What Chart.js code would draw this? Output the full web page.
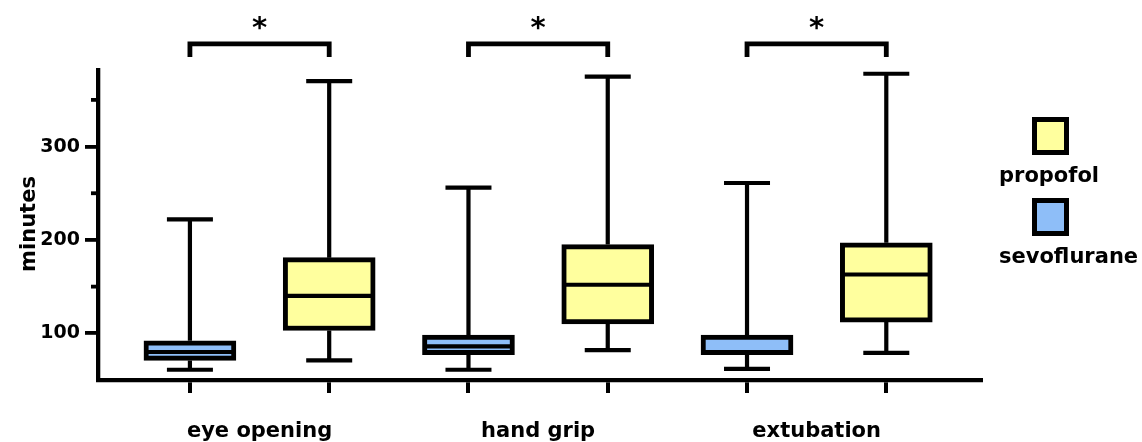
<!DOCTYPE html>
<html>
<head>
<meta charset="utf-8">
<script src="https://cdn.jsdelivr.net/npm/chart.js@4.4.1/dist/chart.umd.min.js"></script>
<style>
  html, body { margin: 0; padding: 0; background: #fff; }
  #wrap { width: 1142px; height: 442px; position: relative; }
</style>
</head>
<body>
<div id="wrap"><canvas id="chBox"></canvas></div>
<script>
/* ── Dati: tempi di risveglio (minuti) per gruppo ── */
const GROUPS = ['eye opening', 'hand grip', 'extubation'];
const SERIES = ['propofol', 'sevoflurane'];

const sevoMin = [61, 61, 62];
const sevoQ1  = [71, 77, 77];
const sevoMed = [80, 86, 80];
const sevoQ3  = [92, 98, 98];
const sevoMax = [222, 256, 261];

const propMin = [71, 82, 79];
const propQ1  = [103, 110, 112];
const propMed = [140, 152, 163];
const propQ3  = [181, 195, 197];
const propMax = [370, 375, 378];

const Y_TICKS = [100, 200, 300];
const Y_MINOR = [150, 250, 350];
const SIG_MARK = ['*', '*', '*'];
const SIG_TOP = 410, SIG_LEG = 396, SIG_STAR = 434;

const COL_SEVO = '#8ebef8';
const COL_PROP = '#ffff9e';
const FONT = "'DejaVu Sans', 'Liberation Sans', Arial, sans-serif";

// posizione sull'asse x: sevo a 0,2,4 · propofol a 1,3,5
const boxes = [];
GROUPS.forEach((g, i) => {
  boxes.push({ x: i * 2,     min: sevoMin[i], q1: sevoQ1[i], med: sevoMed[i], q3: sevoQ3[i], max: sevoMax[i] });
  boxes.push({ x: i * 2 + 1, min: propMin[i], q1: propQ1[i], med: propMed[i], q3: propQ3[i], max: propMax[i] });
});

/* Baffi, mediane, parentesi di significatività, etichette e legenda */
const boxExtras = {
  id: 'boxExtras',
  afterDatasetsDraw(chart) {
    const ctx = chart.ctx, xs = chart.scales.x, ys = chart.scales.y;
    const capW = 46, boxW = 92;
    ctx.save();
    ctx.strokeStyle = '#000';
    ctx.lineWidth = 4.2;
    ctx.lineCap = 'butt';
    boxes.forEach(b => {
      const cx = xs.getPixelForValue(b.x);
      ctx.beginPath();
      // baffo superiore e inferiore
      ctx.moveTo(cx, ys.getPixelForValue(b.q3)); ctx.lineTo(cx, ys.getPixelForValue(b.max));
      ctx.moveTo(cx, ys.getPixelForValue(b.q1)); ctx.lineTo(cx, ys.getPixelForValue(b.min));
      ctx.moveTo(cx - capW / 2, ys.getPixelForValue(b.max)); ctx.lineTo(cx + capW / 2, ys.getPixelForValue(b.max));
      ctx.moveTo(cx - capW / 2, ys.getPixelForValue(b.min)); ctx.lineTo(cx + capW / 2, ys.getPixelForValue(b.min));
      // mediana
      ctx.moveTo(cx - boxW / 2 + 2, ys.getPixelForValue(b.med)); ctx.lineTo(cx + boxW / 2 - 2, ys.getPixelForValue(b.med));
      ctx.stroke();
    });

    // tacche minori asse y
    ctx.lineWidth = 3.8;
    Y_MINOR.forEach(v => {
      const y = ys.getPixelForValue(v);
      ctx.beginPath(); ctx.moveTo(ys.right - 7, y); ctx.lineTo(ys.right, y); ctx.stroke();
    });

    // parentesi + asterisco
    ctx.lineWidth = 4.8;
    ctx.lineJoin = 'miter';
    ctx.fillStyle = '#000';
    GROUPS.forEach((g, i) => {
      const x1 = xs.getPixelForValue(i * 2), x2 = xs.getPixelForValue(i * 2 + 1);
      const yt = ys.getPixelForValue(SIG_TOP), yl = ys.getPixelForValue(SIG_LEG);
      ctx.beginPath();
      ctx.moveTo(x1, yl); ctx.lineTo(x1, yt); ctx.lineTo(x2, yt); ctx.lineTo(x2, yl);
      ctx.stroke();
      ctx.font = 'bold 29px ' + FONT;
      ctx.textAlign = 'center';
      ctx.textBaseline = 'alphabetic';
      ctx.fillText(SIG_MARK[i], (x1 + x2) / 2, ys.getPixelForValue(SIG_STAR) + 16);
      // etichetta del gruppo
      ctx.font = 'bold 21px ' + FONT;
      ctx.fillText(g, (x1 + x2) / 2, 437);
    });

    // titolo asse y
    ctx.save();
    ctx.translate(30, 224);
    ctx.rotate(-Math.PI / 2);
    ctx.font = 'bold 21px ' + FONT;
    ctx.textAlign = 'center';
    ctx.textBaseline = 'middle';
    ctx.fillText('minutes', 0, 0);
    ctx.restore();

    // legenda: quadrato sopra, testo sotto
    const legCol = [COL_PROP, COL_SEVO];
    const legTop = [117, 198];
    SERIES.forEach((s, i) => {
      ctx.fillStyle = '#000';
      ctx.fillRect(1032, legTop[i], 37, 38);
      ctx.fillStyle = legCol[i];
      ctx.fillRect(1037, legTop[i] + 5, 27, 28);
      ctx.fillStyle = '#000';
      ctx.font = 'bold 21px ' + FONT;
      ctx.textAlign = 'left';
      ctx.textBaseline = 'alphabetic';
      ctx.fillText(s, 999, legTop[i] + 65);
    });
    ctx.restore();
  }
};

const barSet = (lbl, col, off) => ({
  type: 'bar',
  label: lbl,
  data: GROUPS.map((g, i) => ({ x: i * 2 + off, y: off ? [propQ1[i], propQ3[i]] : [sevoQ1[i], sevoQ3[i]] })),
  backgroundColor: col,
  borderColor: '#000',
  borderWidth: 5,
  borderSkipped: false,
  barThickness: 92,
  grouped: false
});

new Chart(document.getElementById('chBox'), {
  type: 'bar',
  data: { datasets: [barSet('sevoflurane', COL_SEVO, 0), barSet('propofol', COL_PROP, 1)] },
  options: {
    responsive: true, maintainAspectRatio: false, animation: false,
    layout: { padding: { left: 0, right: 161, top: 70, bottom: 0 } },
    plugins: { legend: { display: false }, tooltip: { enabled: false } },
    scales: {
      x: {
        type: 'linear', min: -0.66, max: 5.68, offset: false,
        ticks: { stepSize: 1, includeBounds: false, display: false },
        grid: { display: true, offset: false, drawOnChartArea: false, drawTicks: true, tickLength: 13, color: '#000', lineWidth: 4 },
        border: { display: true, color: '#000', width: 4.3 },
        afterFit: s => { s.height = 62; }
      },
      y: {
        min: 50, max: 382,
        ticks: {
          stepSize: 50, includeBounds: false, color: '#000', padding: 5,
          font: { family: FONT, size: 19, weight: 'bold' },
          callback: v => Y_TICKS.includes(v) ? String(v) : ''
        },
        grid: {
          display: true, drawOnChartArea: false, drawTicks: true, tickLength: 13, lineWidth: 3.8,
          color: c => Y_TICKS.includes(c.tick && c.tick.value) ? '#000' : 'rgba(0,0,0,0)'
        },
        border: { display: true, color: '#000', width: 4.3 },
        afterFit: s => { s.width = 98; }
      }
    }
  },
  plugins: [boxExtras]
});
</script>
</body>
</html>
